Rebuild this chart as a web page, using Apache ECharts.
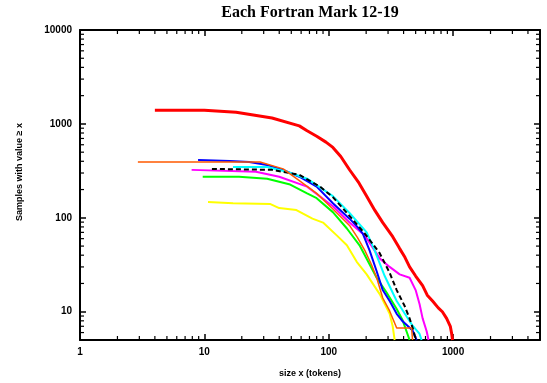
<!DOCTYPE html>
<html>
<head>
<meta charset="utf-8">
<script src="https://cdn.jsdelivr.net/npm/echarts@6/dist/echarts.min.js"></script>
<style>html,body{margin:0;padding:0;background:#fff}#c{width:547px;height:383px}</style>
</head>
<body>
<div id="c"></div>
<script>
const titleText = 'Each Fortran Mark 12-19';
const xName = 'size x (tokens)';
const yName = 'Samples with value \u2265 x';
const xRange = [1, 5000];
const yRange = [5, 10000];
const xMinorTicks = [2,3,4,5,6,7,8,9,20,30,40,50,60,70,80,90,200,300,400,500,600,700,800,900,2000,3000,4000];
const yMinorTicks = [6,7,8,9,20,30,40,50,60,70,80,90,200,300,400,500,600,700,800,900,2000,3000,4000,5000,6000,7000,8000,9000];

const redData = [[4,1400],[10,1400],[18,1333],[35,1155],[58,953],[67,845],[80,740],[95,640],[108,562],[125,450],[147,325],[175,235],[202,170],[235,120],[272,89],[327,63],[372,47],[410,38],[447,30],[500,24],[569,19],[620,15],[684,13],[760,11],[820,10],[887,8.5],[950,7],[973,5.9],[990,5]];
const orangeData = [[2.92,393],[28,393],[43,332],[58,249],[80,182],[108,124],[147,83],[170,62],[195,45],[220,32],[243,23],[272,14],[309,10.2],[352,6.7],[464,6.7],[472,5]];
const blueData = [[8.9,412],[16,402],[23,393],[32,365],[43,324],[58,274],[80,215],[108,143],[147,98],[170,80],[188,68],[213,45],[243,27],[272,17],[309,13],[352,9.5],[393,7.9],[473,6.3],[509,5]];
const magentaData = [[7.9,324],[26,309],[40,274],[67,215],[108,133],[147,89],[195,65],[257,37],[309,30],[372,25],[447,23],[500,17],[538,12],[569,8.5],[613,6.2],[635,5]];
const blackData = [[11.5,332],[35,324],[58,287],[85,215],[108,166],[147,105],[195,68],[257,42],[309,26],[352,17],[408,11.5],[447,8.5],[482,6.2],[500,5]];
const cyanData = [[17,348],[32,348],[46,309],[67,261],[108,170],[147,113],[202,70],[234,45],[282,24],[352,13],[423,8.9],[473,7.1],[538,5.8],[558,5]];
const greenData = [[9.7,274],[19,274],[32,261],[49,226],[67,182],[80,162],[108,115],[140,77],[177,51],[213,32],[243,23],[292,16],[352,10.7],[393,8.1],[447,5]];
const yellowData = [[10.7,147],[17,143],[34,140],[40,127],[55,121],[74,98],[90,89],[116,65],[140,51],[168,34],[202,25],[257,15.4],[309,9.5],[327,7],[339,5]];

const chart = echarts.init(document.getElementById('c'), null, {renderer: 'canvas'});

function line(name, data, color, width, type) {
  return {
    name, type: 'line', data, showSymbol: false, symbol: 'none',
    lineStyle: {color, width, type: type || 'solid'}, itemStyle: {color},
    xAxisIndex: 0, yAxisIndex: 0, animation: false, z: 3
  };
}

const axisLabelStyle = {fontFamily: 'Liberation Sans', fontWeight: 'bold', fontSize: 10, color: '#000', formatter: v => String(Math.round(v))};

const option = {
  animation: false,
  backgroundColor: '#fff',
  graphic: [{
    type: 'text', x: 310, y: 13,
    style: {text: titleText, font: 'bold 16px "Liberation Serif"', fill: '#000', textAlign: 'center', textVerticalAlign: 'middle'}
  }],
  grid: {left: 80, right: 7, top: 30, bottom: 37, containLabel: false},
  xAxis: [{
    type: 'log', logBase: 10, min: xRange[0], max: xRange[1], position: 'bottom',
    name: xName, nameLocation: 'middle', nameGap: 29,
    nameTextStyle: {fontFamily: 'Liberation Sans', fontWeight: 'bold', fontSize: 9, color: '#000'},
    axisLine: {show: true, lineStyle: {color: '#000', width: 2}},
    axisTick: {show: true, inside: true, length: 6, lineStyle: {color: '#000', width: 1.5}},
    axisLabel: Object.assign({showMaxLabel: false, margin: 7}, axisLabelStyle),
    splitLine: {show: false}
  }, {
    type: 'log', logBase: 10, min: xRange[0], max: xRange[1], position: 'top',
    axisLine: {show: true, lineStyle: {color: '#000', width: 2}},
    axisTick: {show: true, inside: true, length: 6, lineStyle: {color: '#000', width: 1.5}},
    axisLabel: {show: false}, splitLine: {show: false}
  }],
  yAxis: [{
    type: 'log', logBase: 10, min: yRange[0], max: yRange[1], position: 'left',
    name: yName, nameLocation: 'middle', nameGap: 56, nameRotate: 90,
    nameTextStyle: {fontFamily: 'Liberation Sans', fontWeight: 'bold', fontSize: 9, color: '#000', padding: [0, 0, 0, 26]},
    axisLine: {show: true, lineStyle: {color: '#000', width: 2}},
    axisTick: {show: true, inside: true, length: 6, lineStyle: {color: '#000', width: 1.5}},
    axisLabel: Object.assign({showMinLabel: false, margin: 8}, axisLabelStyle),
    splitLine: {show: false}
  }, {
    type: 'log', logBase: 10, min: yRange[0], max: yRange[1], position: 'right',
    axisLine: {show: true, lineStyle: {color: '#000', width: 2}},
    axisTick: {show: true, inside: true, length: 6, lineStyle: {color: '#000', width: 1.5}},
    axisLabel: {show: false}, splitLine: {show: false}
  }],
  series: [
    line('yellow', yellowData, '#ffff00', 2),
    line('green', greenData, '#00ff00', 2),
    line('magenta', magentaData, '#ff00ff', 2),
    line('blue', blueData, '#0000ff', 2),
    line('cyan', cyanData, '#00ffff', 2),
    line('black', blackData, '#000000', 2, [5, 3]),
    line('orange', orangeData, '#ff5a00', 1.5),
    line('red', redData, '#ff0000', 3),
    {
      type: 'custom', name: 'xminor', xAxisIndex: 0, yAxisIndex: 0, clip: false, z: 5,
      data: xMinorTicks.map(v => [v, yRange[0]]),
      renderItem: function (params, api) {
        const v = api.value(0);
        const b = api.coord([v, yRange[0]]);
        const t = api.coord([v, yRange[1]]);
        return {type: 'group', children: [
          {type: 'line', shape: {x1: b[0], y1: b[1], x2: b[0], y2: b[1] - 4}, style: {stroke: '#000', lineWidth: 1.2}},
          {type: 'line', shape: {x1: t[0], y1: t[1], x2: t[0], y2: t[1] + 4}, style: {stroke: '#000', lineWidth: 1.2}}
        ]};
      }
    },
    {
      type: 'custom', name: 'yminor', xAxisIndex: 0, yAxisIndex: 0, clip: false, z: 5,
      data: yMinorTicks.map(v => [xRange[0], v]),
      renderItem: function (params, api) {
        const v = api.value(1);
        const l = api.coord([xRange[0], v]);
        const r = api.coord([xRange[1], v]);
        return {type: 'group', children: [
          {type: 'line', shape: {x1: l[0], y1: l[1], x2: l[0] + 4, y2: l[1]}, style: {stroke: '#000', lineWidth: 1.2}},
          {type: 'line', shape: {x1: r[0], y1: r[1], x2: r[0] - 4, y2: r[1]}, style: {stroke: '#000', lineWidth: 1.2}}
        ]};
      }
    }
  ]
};
chart.setOption(option);
</script>
</body>
</html>
